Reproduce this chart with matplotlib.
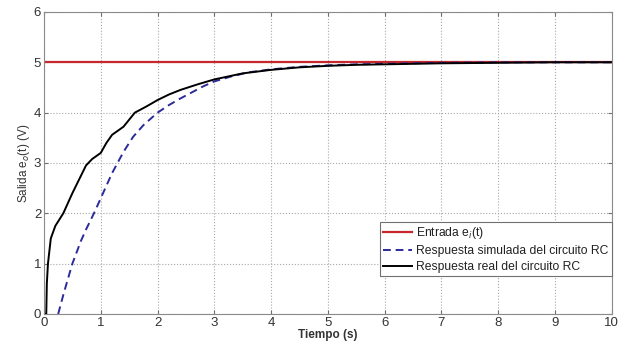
import numpy as np
import matplotlib.pyplot as plt

plt.rcParams['font.family'] = ['Liberation Sans', 'DejaVu Sans']

# ------------------------
# Datos
# ------------------------
t_ent = [0.0, 10.0]
v_ent = [5.0, 5.0]

t_sim = [0.25, 0.35, 0.5, 0.65, 0.75, 0.88, 1.0, 1.2, 1.4, 1.57, 1.75, 2.0,
         2.2, 2.4, 2.6, 2.8, 3.0, 3.3, 3.6, 4.0, 4.5, 5.0, 5.5, 6.0, 7.0,
         8.0, 9.0, 10.0]
v_sim = [0.0, 0.42, 1.0, 1.45, 1.7, 2.0, 2.3, 2.8, 3.22, 3.52, 3.75, 4.0,
         4.15, 4.28, 4.4, 4.52, 4.62, 4.72, 4.8, 4.86, 4.91, 4.94, 4.96,
         4.97, 4.99, 5.0, 5.0, 5.0]

t_real = [0.0, 0.04, 0.05, 0.07, 0.12, 0.2, 0.34, 0.5, 0.74, 0.85, 1.0,
          1.1, 1.2, 1.4, 1.6, 1.8, 2.0, 2.2, 2.4, 2.7, 3.0, 3.5, 4.0, 4.5,
          5.0, 5.5, 6.0, 7.0, 8.0, 9.0, 10.0]
v_real = [0.0, 0.0, 0.6, 1.0, 1.5, 1.75, 2.0, 2.4, 2.95, 3.08, 3.2, 3.4,
          3.56, 3.72, 4.0, 4.12, 4.25, 4.36, 4.45, 4.56, 4.66, 4.78, 4.85,
          4.9, 4.93, 4.95, 4.96, 4.98, 4.99, 5.0, 5.0]

# ------------------------
# Figura
# ------------------------
fig = plt.figure(figsize=(6.23, 3.52), dpi=100)
ax = fig.add_axes([0.0706, 0.108, 0.9114, 0.858])

ax.plot(t_ent, v_ent, color='#c8282d', linewidth=1.6, label='Entrada e$_i$(t)')
ax.plot(t_sim, v_sim, color='#2b2b9a', linestyle='--', linewidth=1.4,
        dashes=(4, 2.5), label='Respuesta simulada del circuito RC')
ax.plot(t_real, v_real, color='black', linewidth=1.4,
        label='Respuesta real del circuito RC')

ax.set_xlim(0, 10)
ax.set_ylim(0, 6)
ax.set_xticks(np.arange(0, 11, 1))
ax.set_yticks(np.arange(0, 7, 1))
ax.grid(True, linestyle=':', color='#a8a8a8', linewidth=0.8)
ax.tick_params(direction='in', top=True, right=True, labelsize=9.5,
               length=3, color='#707070', labelcolor='#333333', pad=2)
for s in ax.spines.values():
    s.set_color('#8a8a8a')

ax.set_xlabel('Tiempo (s)', fontsize=8.5, fontweight='bold', labelpad=0,
              color='#333333')
ax.set_ylabel('Salida e$_o$(t) (V)', fontsize=8.5, labelpad=1, color='#333333')

leg = ax.legend(loc='upper right', bbox_to_anchor=(1.0, 0.305), borderaxespad=0,
                fontsize=8.7, handlelength=2.4, handletextpad=0.3,
                labelspacing=0.3, fancybox=False, framealpha=1,
                edgecolor='#707070', borderpad=0.3)
leg.get_frame().set_linewidth(0.8)
for txt in leg.get_texts():
    txt.set_color('#222222')

fig.savefig('out.png', dpi=100)
